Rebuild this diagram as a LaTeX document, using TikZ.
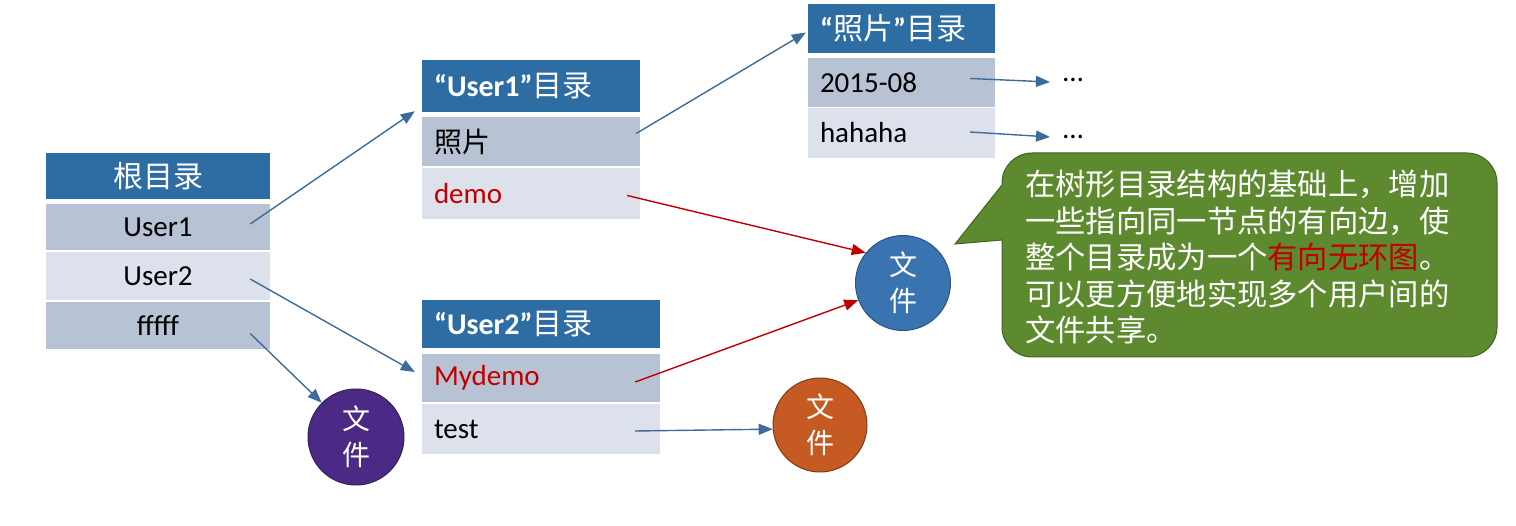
\documentclass[tikz,border=0pt]{standalone}
\usepackage{fontspec}
\setmainfont{Carlito}
\newfontfamily\cjk{Noto Sans CJK SC}
\usetikzlibrary{arrows.meta,calc}
\definecolor{hdrblue}{HTML}{2E6CA4}
\definecolor{rowD}{HTML}{B8C2D5}
\definecolor{rowL}{HTML}{DCE1EB}
\definecolor{lineblue}{HTML}{3B6C9C}
\definecolor{linered}{HTML}{C00000}
\definecolor{cblue}{HTML}{3A74B0}
\definecolor{cblueD}{HTML}{2B5585}
\definecolor{cpurple}{HTML}{4A2A84}
\definecolor{cpurpleD}{HTML}{33205C}
\definecolor{corange}{HTML}{C55A22}
\definecolor{corangeD}{HTML}{7F3A16}
\definecolor{bgreen}{HTML}{5D8A2F}
\definecolor{bgreenD}{HTML}{41631F}
\definecolor{redtxt}{HTML}{C00000}
\begin{document}
\begin{tikzpicture}[x=1pt,y=-1pt,
  hdr/.style={fill=hdrblue, text=white, inner ysep=0pt, font=\fontsize{30}{36}\selectfont},
  rowd/.style={fill=rowD, inner ysep=0pt, font=\fontsize{29}{34}\selectfont},
  rowl/.style={fill=rowL, inner ysep=0pt, font=\fontsize{29}{34}\selectfont},
  rootcell/.style={text width=224pt, inner xsep=0pt, align=center},
  ucell/.style={text width=194pt, inner xsep=12pt, align=left},
  pcell/.style={text width=163pt, inner xsep=12pt, align=left},
  vcell/.style={text width=214pt, inner xsep=12pt, align=left},
  filenode/.style={circle, line width=1pt, inner sep=0pt, text=white, align=center,
    font=\cjk\fontsize{28}{36}\selectfont},
  barr/.style={draw=lineblue, line width=1.4pt, -{Triangle[length=14pt,width=11pt]}},
  rarr/.style={draw=linered, line width=1.4pt, -{Triangle[length=14pt,width=11pt]}},
  dotsnode/.style={inner sep=0pt, anchor=west, font=\fontsize{29}{34}\selectfont},
  bubble/.style={fill=bgreen, draw=bgreenD, line width=1pt},
  btext/.style={inner sep=0pt, anchor=west, text=white, align=left,
    font=\cjk\fontsize{30.3}{36.5}\selectfont}
]
\useasboundingbox (0,0) rectangle (1516,526);

% root directory
\node[hdr, rootcell, minimum height=46pt] (rh) at (158,176) {\cjk 根目录};
\node[rowd, rootcell, minimum height=46pt] (r1) at (158,227) {User1};
\node[rowl, rootcell, minimum height=48pt] (r2) at (158,276) {User2};
\node[rowd, rootcell, minimum height=47pt] (r3) at (158,325.5) {fffff};

% User1 directory
\node[hdr, ucell, minimum height=52pt] (u1h) at (531,86) {{\bfseries “User1”}{\cjk 目录}};
\node[rowd, ucell, minimum height=49pt] (u1a) at (531,141.5) {\cjk\fontsize{28}{34}\selectfont 照片};
\node[rowl, ucell, minimum height=51pt, text=redtxt] (u1b) at (531,193.5) {demo};

% photo directory
\node[hdr, pcell, minimum height=49pt] (ph) at (901.5,28.5) {{\bfseries “}{\cjk 照片}{\bfseries ”}{\cjk 目录}};
\node[rowd, pcell, minimum height=49pt] (p1) at (901.5,82.5) {2015-08};
\node[rowl, pcell, minimum height=50pt] (p2) at (901.5,133) {hahaha};

% User2 directory
\node[hdr, vcell, minimum height=48pt] (u2h) at (541,324) {{\bfseries “User2”}{\cjk 目录}};
\node[rowd, vcell, minimum height=48pt, text=redtxt] (u2a) at (541,378) {Mydemo};
\node[rowl, vcell, minimum height=50pt] (u2b) at (541,429) {test};

% files
\node[filenode, fill=cblue, draw=cblueD, minimum size=95pt] (fblue) at (903,283) {文\\件};
\node[filenode, fill=cpurple, draw=cpurpleD, minimum size=96pt] (fpurple) at (356,437) {文\\件};
\node[filenode, fill=corange, draw=corangeD, minimum size=94pt] (forange) at (820,425) {文\\件};

% dots
\node[dotsnode] (d1) at (1063,80) {…};
\node[dotsnode] (d2) at (1063,137) {…};

% connectors
\draw[barr] ([xshift=-20pt,yshift=3pt]r1.east) -- ([xshift=-7pt,yshift=1pt]u1h.south west);
\draw[barr] ([xshift=-20pt,yshift=-3pt]r2.east) -- ([xshift=-7pt,yshift=6pt]u2a.west);
\draw[barr] ([xshift=-20pt,yshift=-8pt]r3.east) -- (fpurple.135);
\draw[barr] ([xshift=-4pt,yshift=8pt]u1a.east) -- ([xshift=-2pt,yshift=-4pt]ph.west);
\draw[rarr] ([xshift=-13pt,yshift=-2pt]u1b.east) -- (fblue.141);
\draw[rarr] ([xshift=-25pt,yshift=-4pt]u2a.east) -- (fblue.201);
\draw[barr] ([xshift=-25pt,yshift=-2pt]u2b.east) -- (forange.185);
\draw[barr] ([xshift=-25pt,yshift=4pt]p1.east) -- ([xshift=-13pt,yshift=-2pt]d1.west);
\draw[barr] ([xshift=-25pt,yshift=1pt]p2.east) -- ([xshift=-13pt,yshift=0pt]d2.west);

% callout
\draw[bubble] (955,244) -- (1002,185) -- (1002,184) [rounded corners=30pt] -- (1002,153) -- (1497,153)
  -- (1497,357) -- (1002,357) -- (1002,300) [sharp corners] -- (1002,240) -- cycle;
\node[btext] (note) at (1025,257) {在树形目录结构的基础上，增加\\
一些指向同一节点的有向边，使\\
整个目录成为一个{\color{redtxt}有向无环图}。\\
可以更方便地实现多个用户间的\\
文件共享。};
\end{tikzpicture}
\end{document}
